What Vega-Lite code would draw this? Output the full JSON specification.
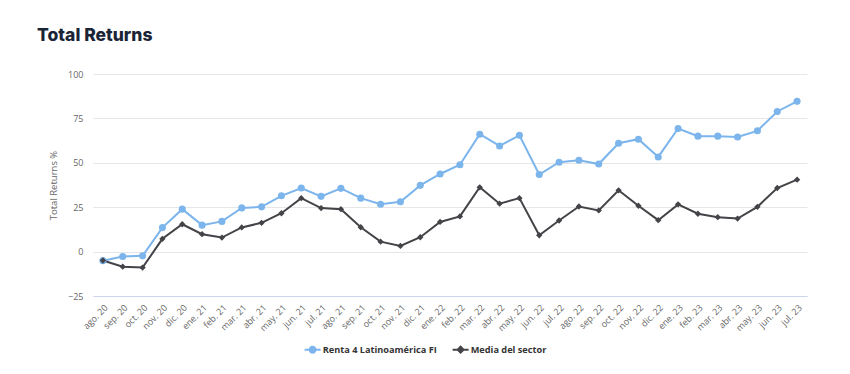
{
  "$schema": "https://vega.github.io/schema/vega-lite/v6.json",
  "width": 714,
  "height": 222,
  "autosize": {"type": "none"},
  "padding": {"left": 93, "top": 74, "right": 43, "bottom": 78},
  "background": "white",
  "title": {
    "text": "Total Returns",
    "anchor": "start",
    "frame": "group",
    "dx": -56,
    "offset": 26,
    "font": "Inter",
    "fontSize": 17.5,
    "fontWeight": 800,
    "color": "#1b2437"
  },
  "config": {
    "view": {"stroke": null},
    "font": "Open Sans"
  },
  "data": {
    "values": [
      {"mes": "ago. 20", "serie": "Renta 4 Latinoamérica FI", "valor": -5.1},
      {"mes": "sep. 20", "serie": "Renta 4 Latinoamérica FI", "valor": -2.8},
      {"mes": "oct. 20", "serie": "Renta 4 Latinoamérica FI", "valor": -2.4},
      {"mes": "nov. 20", "serie": "Renta 4 Latinoamérica FI", "valor": 13.5},
      {"mes": "dic. 20", "serie": "Renta 4 Latinoamérica FI", "valor": 23.9},
      {"mes": "ene. 21", "serie": "Renta 4 Latinoamérica FI", "valor": 14.9},
      {"mes": "feb. 21", "serie": "Renta 4 Latinoamérica FI", "valor": 17.0},
      {"mes": "mar. 21", "serie": "Renta 4 Latinoamérica FI", "valor": 24.6},
      {"mes": "abr. 21", "serie": "Renta 4 Latinoamérica FI", "valor": 25.2},
      {"mes": "may. 21", "serie": "Renta 4 Latinoamérica FI", "valor": 31.4},
      {"mes": "jun. 21", "serie": "Renta 4 Latinoamérica FI", "valor": 35.8},
      {"mes": "jul. 21", "serie": "Renta 4 Latinoamérica FI", "valor": 31.1},
      {"mes": "ago. 21", "serie": "Renta 4 Latinoamérica FI", "valor": 35.6},
      {"mes": "sep. 21", "serie": "Renta 4 Latinoamérica FI", "valor": 30.1},
      {"mes": "oct. 21", "serie": "Renta 4 Latinoamérica FI", "valor": 26.7},
      {"mes": "nov. 21", "serie": "Renta 4 Latinoamérica FI", "valor": 28.1},
      {"mes": "dic. 21", "serie": "Renta 4 Latinoamérica FI", "valor": 37.3},
      {"mes": "ene. 22", "serie": "Renta 4 Latinoamérica FI", "valor": 43.7},
      {"mes": "feb. 22", "serie": "Renta 4 Latinoamérica FI", "valor": 48.9},
      {"mes": "mar. 22", "serie": "Renta 4 Latinoamérica FI", "valor": 66.1},
      {"mes": "abr. 22", "serie": "Renta 4 Latinoamérica FI", "valor": 59.5},
      {"mes": "may. 22", "serie": "Renta 4 Latinoamérica FI", "valor": 65.5},
      {"mes": "jun. 22", "serie": "Renta 4 Latinoamérica FI", "valor": 43.4},
      {"mes": "jul. 22", "serie": "Renta 4 Latinoamérica FI", "valor": 50.3},
      {"mes": "ago. 22", "serie": "Renta 4 Latinoamérica FI", "valor": 51.4},
      {"mes": "sep. 22", "serie": "Renta 4 Latinoamérica FI", "valor": 49.3},
      {"mes": "oct. 22", "serie": "Renta 4 Latinoamérica FI", "valor": 61.0},
      {"mes": "nov. 22", "serie": "Renta 4 Latinoamérica FI", "valor": 63.3},
      {"mes": "dic. 22", "serie": "Renta 4 Latinoamérica FI", "valor": 53.3},
      {"mes": "ene. 23", "serie": "Renta 4 Latinoamérica FI", "valor": 69.3},
      {"mes": "feb. 23", "serie": "Renta 4 Latinoamérica FI", "valor": 65.0},
      {"mes": "mar. 23", "serie": "Renta 4 Latinoamérica FI", "valor": 65.0},
      {"mes": "abr. 23", "serie": "Renta 4 Latinoamérica FI", "valor": 64.5},
      {"mes": "may. 23", "serie": "Renta 4 Latinoamérica FI", "valor": 68.0},
      {"mes": "jun. 23", "serie": "Renta 4 Latinoamérica FI", "valor": 78.9},
      {"mes": "jul. 23", "serie": "Renta 4 Latinoamérica FI", "valor": 84.6},
      {"mes": "ago. 20", "serie": "Media del sector", "valor": -5.0},
      {"mes": "sep. 20", "serie": "Media del sector", "valor": -8.5},
      {"mes": "oct. 20", "serie": "Media del sector", "valor": -9.0},
      {"mes": "nov. 20", "serie": "Media del sector", "valor": 7.2},
      {"mes": "dic. 20", "serie": "Media del sector", "valor": 15.4},
      {"mes": "ene. 21", "serie": "Media del sector", "valor": 9.8},
      {"mes": "feb. 21", "serie": "Media del sector", "valor": 7.9},
      {"mes": "mar. 21", "serie": "Media del sector", "valor": 13.6},
      {"mes": "abr. 21", "serie": "Media del sector", "valor": 16.2},
      {"mes": "may. 21", "serie": "Media del sector", "valor": 21.6},
      {"mes": "jun. 21", "serie": "Media del sector", "valor": 30.1},
      {"mes": "jul. 21", "serie": "Media del sector", "valor": 24.5},
      {"mes": "ago. 21", "serie": "Media del sector", "valor": 23.9},
      {"mes": "sep. 21", "serie": "Media del sector", "valor": 13.7},
      {"mes": "oct. 21", "serie": "Media del sector", "valor": 5.6},
      {"mes": "nov. 21", "serie": "Media del sector", "valor": 3.2},
      {"mes": "dic. 21", "serie": "Media del sector", "valor": 8.1},
      {"mes": "ene. 22", "serie": "Media del sector", "valor": 16.7},
      {"mes": "feb. 22", "serie": "Media del sector", "valor": 19.8},
      {"mes": "mar. 22", "serie": "Media del sector", "valor": 36.2},
      {"mes": "abr. 22", "serie": "Media del sector", "valor": 27.0},
      {"mes": "may. 22", "serie": "Media del sector", "valor": 30.1},
      {"mes": "jun. 22", "serie": "Media del sector", "valor": 9.2},
      {"mes": "jul. 22", "serie": "Media del sector", "valor": 17.5},
      {"mes": "ago. 22", "serie": "Media del sector", "valor": 25.4},
      {"mes": "sep. 22", "serie": "Media del sector", "valor": 23.2},
      {"mes": "oct. 22", "serie": "Media del sector", "valor": 34.5},
      {"mes": "nov. 22", "serie": "Media del sector", "valor": 25.8},
      {"mes": "dic. 22", "serie": "Media del sector", "valor": 17.7},
      {"mes": "ene. 23", "serie": "Media del sector", "valor": 26.6},
      {"mes": "feb. 23", "serie": "Media del sector", "valor": 21.3},
      {"mes": "mar. 23", "serie": "Media del sector", "valor": 19.4},
      {"mes": "abr. 23", "serie": "Media del sector", "valor": 18.6},
      {"mes": "may. 23", "serie": "Media del sector", "valor": 25.2},
      {"mes": "jun. 23", "serie": "Media del sector", "valor": 35.8},
      {"mes": "jul. 23", "serie": "Media del sector", "valor": 40.5}
    ]
  },
  "encoding": {
    "x": {
      "field": "mes",
      "type": "ordinal",
      "sort": null,
      "scale": {"type": "point", "padding": 0.5},
      "axis": {
        "title": null,
        "labelAngle": -45,
        "labelFontSize": 9,
        "labelColor": "#666666",
        "labelPadding": 7,
        "ticks": false,
        "grid": false,
        "domainColor": "#ccd6eb",
        "domainWidth": 1
      }
    },
    "y": {
      "field": "valor",
      "type": "quantitative",
      "scale": {"domain": [-25, 100], "nice": false, "zero": false},
      "axis": {
        "title": "Total Returns %",
        "values": [-25, 0, 25, 50, 75, 100],
        "labelFontSize": 9,
        "labelColor": "#666666",
        "labelPadding": 10,
        "ticks": false,
        "domain": false,
        "grid": true,
        "gridColor": "#e6e6e6",
        "titleFontSize": 9.5,
        "titleFontWeight": "normal",
        "titleColor": "#666666",
        "titlePadding": 9
      }
    }
  },
  "layer": [
    {
      "mark": {"type": "line", "strokeWidth": 2},
      "encoding": {
        "color": {
          "field": "serie",
          "type": "nominal",
          "sort": ["Renta 4 Latinoamérica FI", "Media del sector"],
          "scale": {"domain": ["Renta 4 Latinoamérica FI", "Media del sector"], "range": ["#7cb5ec", "#434348"]},
          "legend": {
            "title": null,
            "orient": "none",
            "direction": "horizontal",
            "legendX": 215,
            "legendY": 271,
            "labelFontSize": 9.2,
            "labelFontWeight": "bold",
            "labelColor": "#333333",
            "symbolSize": 64,
            "symbolStrokeWidth": 0,
            "columnPadding": 15,
            "labelOffset": 5.5,
            "encode": {
              "symbols": {
                "update": {
                  "shape": {"signal": "datum.value === 'Media del sector' ? 'M-2,-0.25L2,-0.25L2,0.25L-2,0.25ZM0,-1.1L1.1,0L0,1.1L-1.1,0Z' : 'M-2,-0.25L2,-0.25L2,0.25L-2,0.25ZM1,0A1,1 0 1,1 -1,0A1,1 0 1,1 1,0Z'"},
                  "fill": {"signal": "datum.value === 'Media del sector' ? '#434348' : '#7cb5ec'"},
                  "fillOpacity": {"value": 1},
                  "strokeWidth": {"value": 0}
                }
              }
            }
          }
        }
      }
    },
    {
      "transform": [{"filter": "datum.serie === 'Renta 4 Latinoamérica FI'"}],
      "mark": {"type": "point", "filled": true, "opacity": 1, "shape": "circle", "size": 50, "color": "#7cb5ec"}
    },
    {
      "transform": [{"filter": "datum.serie === 'Media del sector'"}],
      "mark": {"type": "point", "filled": true, "opacity": 1, "shape": "diamond", "size": 40, "color": "#434348"}
    }
  ]
}
